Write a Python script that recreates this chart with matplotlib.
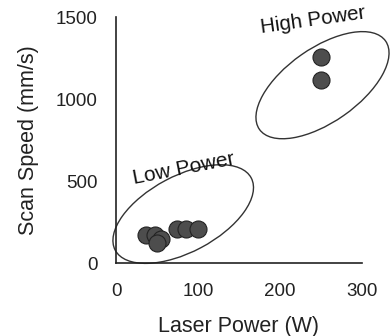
import matplotlib
matplotlib.use("Agg")
import matplotlib.pyplot as plt
from matplotlib.patches import Ellipse
from matplotlib.transforms import ScaledTranslation

plt.rcParams['font.family'] = ['Liberation Sans', 'DejaVu Sans']

# laser power (W) vs scan speed (mm/s)
low_power = [37, 48, 55, 50, 74, 85, 100]
low_speed = [172, 172, 145, 120, 210, 210, 210]
high_power = [250, 250]
high_speed = [1258, 1115]

groups = ["Low Power", "High Power"]
# group outline centres (data units) and label anchors
outline_centres = [(82, 299), (252, 1085)]
label_points = [(82, 578), (241, 1482)]

fig = plt.figure(figsize=(3.92, 3.36), dpi=100)
ax = fig.add_axes([0.296, 0.217, 0.627, 0.732])

ax.scatter(low_power, low_speed, s=150, color='#4d4d4d', edgecolor='#222222',
           linewidth=0.8, zorder=3)
ax.scatter(high_power, high_speed, s=150, color='#4d4d4d', edgecolor='#222222',
           linewidth=0.8, zorder=3)

# ellipses drawn in inches around a data-space centre
shapes = [(1.54, 0.76, 28), (1.54, 0.74, 35)]
text_rot = [11, 8]
text_size = [15, 14.8]
for name, (cx, cy), (w, h, ang), (tx, ty), rot, fs in zip(groups, outline_centres, shapes,
                                                         label_points, text_rot, text_size):
    tr = fig.dpi_scale_trans + ScaledTranslation(cx, cy, ax.transData)
    ax.add_patch(Ellipse((0, 0), w, h, angle=ang, transform=tr, fill=False,
                         edgecolor='#333333', linewidth=1.0, clip_on=False))
    ax.text(tx, ty, name, fontsize=fs, rotation=rot, ha='center', va='center',
            rotation_mode='anchor', color='#111111')

ax.set_xlim(0, 300)
ax.set_ylim(0, 1500)
ax.set_xticks([0, 100, 200, 300])
ax.set_yticks([0, 500, 1000, 1500])
ax.tick_params(length=0, labelsize=13.5, colors='#222222')
ax.tick_params(axis='x', pad=14)
ax.tick_params(axis='y', pad=13)
for s in ['top', 'right']:
    ax.spines[s].set_visible(False)
for s in ['left', 'bottom']:
    ax.spines[s].set_color('#222222')
    ax.spines[s].set_linewidth(1.2)

ax.set_xlabel('Laser Power (W)', fontsize=15.5, labelpad=12, color='#222222')
ax.set_ylabel('Scan Speed (mm/s)', fontsize=15.5, labelpad=12, color='#222222')

fig.savefig('out.png', dpi=100)
